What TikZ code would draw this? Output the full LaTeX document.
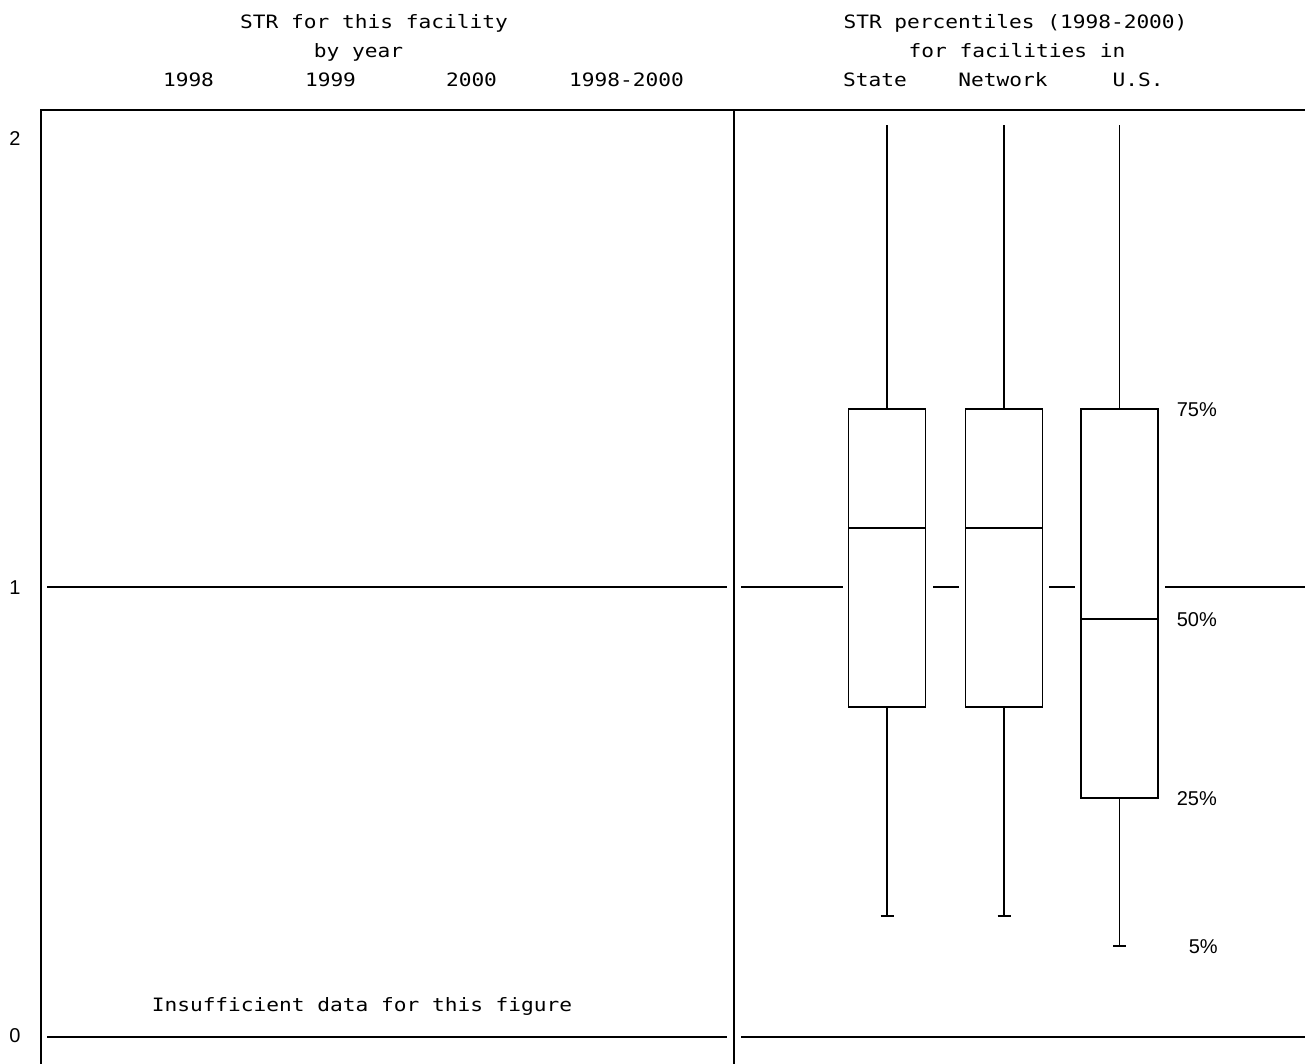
\documentclass[tikz,border=0pt]{standalone}
\usepackage{fontspec}
\setmainfont{Liberation Sans}
\setmonofont[FakeStretch=1.15]{DejaVu Sans Mono}

\tikzset{
	hdr/.style = {font = \ttfamily\fontsize{9.2pt}{11pt}\selectfont, anchor = base, inner sep = 0},
	num/.style = {font = \fontsize{10pt}{12pt}\selectfont, anchor = base, inner sep = 0},
	pct/.style = {num, anchor = base west}
}

\begin{document}
\begin{tikzpicture}[x = 0.5pt, y = -0.5pt, line width = 0.75pt]
	\def\ytop{110};
	\def\yone{587};
	\def\yzero{1037};
	\def\ywhisk{125};
	\def\half{38.5};
	
	\useasboundingbox (0,0) rectangle (1305,1064);
	
	% frame
	\draw (41,1064) -- (41,\ytop) -- (1305,\ytop);
	\draw (734,\ytop) -- (734,1064);
	
	% reference lines
	\draw (47,\yone) -- (727,\yone);
	\draw (741,\yone) -- (843,\yone);
	\draw (933,\yone) -- (959,\yone);
	\draw (1049,\yone) -- (1075,\yone);
	\draw (1165,\yone) -- (1305,\yone);
	\draw (47,\yzero) -- (727,\yzero);
	\draw (741,\yzero) -- (1305,\yzero);
	
	% boxes: centre / 25% / 50% / 75% / 5%
	\foreach \cx/\qa/\md/\qc/\lo in {887/707/528/409/916, 1004/707/528/409/916, 1119.5/798/619/409/946}{
		\draw (\cx-\half,\qc) rectangle (\cx+\half,\qa);
		\draw (\cx-\half,\md) -- (\cx+\half,\md);
		\draw (\cx,\qc) -- (\cx,\ywhisk);
		\draw (\cx,\qa) -- (\cx,\lo);
		\draw (\cx-6.5,\lo) -- (\cx+6.5,\lo);
	}
	
	% headings
	\node [hdr] (titleL) at (374,28.5) {STR for this facility};
	\node [hdr] (byyear) at (358.5,57.5) {by year};
	\node [hdr] (y98) at (188.5,86.5) {1998};
	\node [hdr] (y99) at (330.5,86.5) {1999};
	\node [hdr] (y00) at (471.5,86.5) {2000};
	\node [hdr] (yall) at (626.5,86.5) {1998-2000};
	\node [hdr] (titleR) at (1015.5,28.5) {STR percentiles (1998-2000)};
	\node [hdr] (forfac) at (1017,57.5) {for facilities in};
	\node [hdr] (state) at (875,86.5) {State};
	\node [hdr] (network) at (1003,86.5) {Network};
	\node [hdr] (us) at (1138,86.5) {U.S.};
	\node [hdr] (nodata) at (362,1011.5) {Insufficient data for this figure};
	
	% axis labels
	\node [num] (ax2) at (15,146) {2};
	\node [num] (ax1) at (15,594) {1};
	\node [num] (ax0) at (15,1042) {0};
	
	% percentile labels
	\node [pct] (p75) at (1176,416) {75\%};
	\node [pct] (p50) at (1176,626) {50\%};
	\node [pct] (p25) at (1176,805) {25\%};
	\node [pct] (p5) at (1188,953) {5\%};
\end{tikzpicture}
\end{document}
